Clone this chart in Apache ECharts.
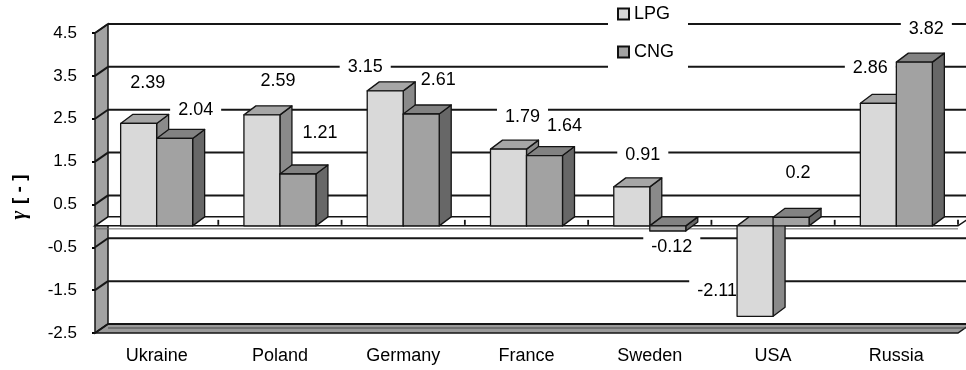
<!DOCTYPE html>
<html>
<head>
<meta charset="utf-8">
<title>γ by country: LPG and CNG</title>
<script src="https://cdn.jsdelivr.net/npm/echarts@6/dist/echarts.min.js"></script>
<style>
  html, body { margin: 0; padding: 0; background: #fff; }
  #chart { width: 966px; height: 370px; }
</style>
</head>
<body>
<div id="chart"></div>
<script>
// ---- data ----
const categories = ['Ukraine', 'Poland', 'Germany', 'France', 'Sweden', 'USA', 'Russia'];
const lpgValues = [2.39, 2.59, 3.15, 1.79, 0.91, -2.11, 2.86];
const cngValues = [2.04, 1.21, 2.61, 1.64, -0.12, 0.2, 3.82];
const yTicks = [-2.5, -1.5, -0.5, 0.5, 1.5, 2.5, 3.5, 4.5];

// ---- layout / style ----
const FONT = '"Liberation Sans", Arial, sans-serif';
const WALL_DX = 13, WALL_DY = -9;   // depth offset of walls and planes
const BAR_DX = 12, BAR_DY = -9;     // depth offset of bar boxes
const BAR_FRAC = 0.292;             // bar width as a fraction of the category band
const EDGE = '#141414';
const LPG_FACES = { front: '#d9d9d9', top: '#a6a6a6', side: '#8a8a8a' };
const CNG_FACES = { front: '#a2a2a2', top: '#828282', side: '#676767' };
// label nudges relative to the bar's value end (pixels)
const lpgLabelNudge = [[9, -40], [16, -34], [-20, -24], [14, -32], [11, -32], [-38, -25], [-8, -35]];
const cngLabelNudge = [[21, -28], [22, -41], [17, -34], [20, -30], [4, 16], [7, -44], [12, -33]];

function barGeom(api, side) {
  const i = api.value(0), v = api.value(1);
  const base = api.coord([i, 0]);
  const end = api.coord([i, v]);
  const w = api.size([1, 0])[0] * BAR_FRAC;
  const x1 = side < 0 ? base[0] - w : base[0];
  return { x1, x2: x1 + w, w, yHi: Math.min(base[1], end[1]), yLo: Math.max(base[1], end[1]), yEnd: end[1], v };
}

function barRenderer(side, faces) {
  return function (params, api) {
    const g = barGeom(api, side);
    const st = (fill) => ({ fill, stroke: EDGE, lineWidth: 1.3, lineJoin: 'round' });
    return {
      type: 'group',
      children: [
        { type: 'polygon', shape: { points: [[g.x2, g.yHi], [g.x2 + BAR_DX, g.yHi + BAR_DY], [g.x2 + BAR_DX, g.yLo + BAR_DY], [g.x2, g.yLo]] }, style: st(faces.side) },
        { type: 'polygon', shape: { points: [[g.x1, g.yHi], [g.x2, g.yHi], [g.x2 + BAR_DX, g.yHi + BAR_DY], [g.x1 + BAR_DX, g.yHi + BAR_DY]] }, style: st(faces.top) },
        { type: 'rect', shape: { x: g.x1, y: g.yHi, width: g.w, height: g.yLo - g.yHi }, style: st(faces.front) }
      ]
    };
  };
}

function labelRenderer(side, nudges) {
  return function (params, api) {
    const g = barGeom(api, side);
    const n = nudges[params.dataIndex];
    return {
      type: 'text',
      x: (g.x1 + g.x2) / 2 + n[0],
      y: g.yEnd + n[1],
      style: {
        text: String(g.v), align: 'center', verticalAlign: 'middle',
        font: '18px ' + FONT, fill: '#000',
        backgroundColor: '#fff', padding: [3, 8]
      }
    };
  };
}

// side wall, floor at the axis minimum
function wallsRenderer(params, api) {
  const cs = params.coordSys;
  const yTop = api.coord([0, yTicks[yTicks.length - 1]])[1];
  const yBot = api.coord([0, yTicks[0]])[1];
  const L = cs.x, R = cs.x + cs.width;
  return {
    type: 'group',
    children: [
      { type: 'polygon', shape: { points: [[L, yTop], [L + WALL_DX, yTop + WALL_DY], [L + WALL_DX, yBot + WALL_DY], [L, yBot]] },
        style: { fill: '#a2a2a2', stroke: EDGE, lineWidth: 1.5 } },
      { type: 'polygon', shape: { points: [[L, yBot], [R, yBot], [R + WALL_DX, yBot + WALL_DY], [L + WALL_DX, yBot + WALL_DY]] },
        style: { fill: '#9a9a9a', stroke: EDGE, lineWidth: 1.5 } },
      { type: 'line', shape: { x1: L + WALL_DX, y1: yBot + WALL_DY + 4, x2: R + WALL_DX, y2: yBot + WALL_DY + 4 },
        style: { stroke: '#4a4a4a', lineWidth: 1.2 } }
    ]
  };
}

// back-wall gridline plus its diagonal across the side wall
function gridRenderer(params, api) {
  const cs = params.coordSys;
  const y = api.coord([0, api.value(1)])[1];
  const L = cs.x, R = cs.x + cs.width;
  const st = { stroke: '#161616', lineWidth: 2 };
  return {
    type: 'group',
    children: [
      { type: 'line', shape: { x1: L + WALL_DX, y1: y + WALL_DY, x2: R + WALL_DX, y2: y + WALL_DY }, style: st },
      { type: 'line', shape: { x1: L, y1: y, x2: L + WALL_DX, y2: y + WALL_DY }, style: st }
    ]
  };
}

// plane at zero with category boundary ticks
function zeroRenderer(params, api) {
  const cs = params.coordSys;
  const y0 = api.coord([0, 0])[1];
  const L = cs.x, R = cs.x + cs.width;
  const band = api.size([1, 0])[0];
  const kids = [
    { type: 'polygon', shape: { points: [[L, y0], [R, y0], [R + WALL_DX, y0 + WALL_DY], [L + WALL_DX, y0 + WALL_DY]] },
      style: { fill: '#fff', stroke: EDGE, lineWidth: 1.5 } },
    { type: 'line', shape: { x1: L, y1: y0 + 3, x2: R, y2: y0 + 3 }, style: { stroke: '#666', lineWidth: 1 } }
  ];
  for (let k = 1; k <= categories.length; k++) {
    const x = L + band * k;
    kids.push({ type: 'line', shape: { x1: x, y1: y0 - 1, x2: x, y2: y0 - 6 }, style: { stroke: EDGE, lineWidth: 1.8 } });
  }
  return { type: 'group', children: kids };
}

const chart = echarts.init(document.getElementById('chart'), null, { renderer: 'canvas' });
chart.setOption({
  animation: false,
  backgroundColor: '#fff',
  grid: { left: 95, right: 8, top: 33, bottom: 37 },
  xAxis: {
    type: 'category', data: categories,
    axisLine: { show: false }, axisTick: { show: false }, splitLine: { show: false },
    axisLabel: { color: '#000', fontFamily: FONT, fontSize: 18, margin: 14 }
  },
  yAxis: {
    type: 'value', min: yTicks[0], max: yTicks[yTicks.length - 1], interval: 1,
    axisLine: { show: false },
    axisTick: { show: true, length: 3, lineStyle: { color: '#000', width: 2 } },
    splitLine: { show: false },
    axisLabel: { color: '#000', fontFamily: FONT, fontSize: 17, margin: 18, formatter: (v) => v.toFixed(1) }
  },
  legend: {
    left: 608, top: 0, orient: 'vertical',
    backgroundColor: '#fff', padding: [4, 14, 12, 9],
    itemWidth: 11, itemHeight: 11, itemGap: 18,
    icon: 'rect', z: 10,
    textStyle: { color: '#000', fontFamily: FONT, fontSize: 18, lineHeight: 20 },
    data: [
      { name: 'LPG', itemStyle: { color: LPG_FACES.front, borderColor: '#111', borderWidth: 2 } },
      { name: 'CNG', itemStyle: { color: CNG_FACES.front, borderColor: '#111', borderWidth: 2 } }
    ]
  },
  graphic: [{
    type: 'text', x: 20, y: 197, rotation: Math.PI / 2,
    style: {
      text: '{g|γ}  {b|[ - ]}', align: 'center', verticalAlign: 'middle',
      rich: {
        g: { font: 'italic bold 21px "Liberation Serif", serif', fill: '#000' },
        b: { font: 'bold 19px ' + FONT, fill: '#000' }
      }
    }
  }],
  series: [
    { name: 'walls', type: 'custom', z: 1, silent: true, data: [[0, 0]], renderItem: wallsRenderer },
    { name: 'grid', type: 'custom', z: 2, silent: true, data: yTicks.map((v) => [0, v]), renderItem: gridRenderer },
    { name: 'zero', type: 'custom', z: 3, silent: true, data: [[0, 0]], renderItem: zeroRenderer },
    { name: 'CNG labels', type: 'custom', z: 4, silent: true, data: cngValues.map((v, i) => [i, v]), renderItem: labelRenderer(1, cngLabelNudge) },
    { name: 'LPG labels', type: 'custom', z: 4.5, silent: true, data: lpgValues.map((v, i) => [i, v]), renderItem: labelRenderer(-1, lpgLabelNudge) },
    { name: 'LPG', type: 'custom', z: 5, itemStyle: { color: LPG_FACES.front }, data: lpgValues.map((v, i) => [i, v]), renderItem: barRenderer(-1, LPG_FACES) },
    { name: 'CNG', type: 'custom', z: 6, itemStyle: { color: CNG_FACES.front }, data: cngValues.map((v, i) => [i, v]), renderItem: barRenderer(1, CNG_FACES) }
  ]
});
</script>
</body>
</html>
